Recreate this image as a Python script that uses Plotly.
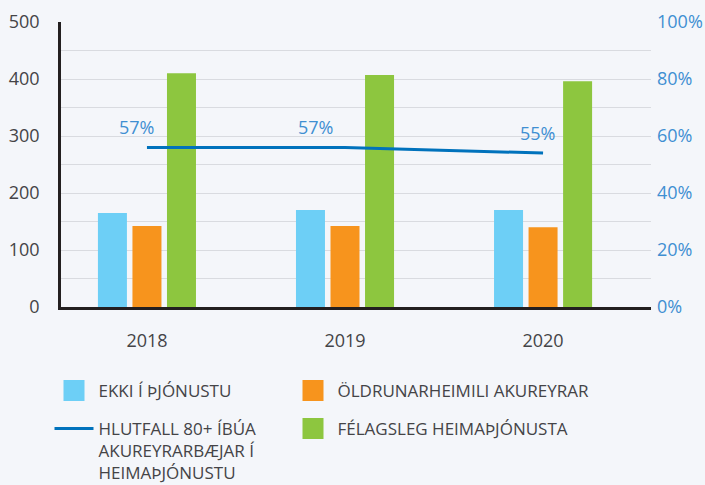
import plotly.graph_objects as go

years = ["2018", "2019", "2020"]
ekki = [165, 170, 170]
oldrun = [142, 142, 140]
felags = [410, 407, 396]
hlutfall = [0.56, 0.56, 0.54]
hlutfall_labels = ["57%", "57%", "55%"]

name_ekki = "EKKI Í ÞJÓNUSTU"
name_old = "ÖLDRUNARHEIMILI AKUREYRAR"
name_hlut = "HLUTFALL 80+ ÍBÚA<br>AKUREYRARBÆJAR Í<br>HEIMAÞJÓNUSTU"
name_fel = "FÉLAGSLEG HEIMAÞJÓNUSTA"

C_EKKI = "#6dcff6"
C_OLD = "#f7941d"
C_FEL = "#8dc63f"
C_LINE = "#0072bc"

BG = "#f4f6fa"
TXT = "#444447"
BLUE_TXT = "#3f8fd2"
FONT = "Open Sans"
FS = 18
LFS = 17

fig = go.Figure()
fig.add_bar(x=years, y=ekki, name=name_ekki, marker_color=C_EKKI, marker_line_width=0, showlegend=False)
fig.add_bar(x=years, y=oldrun, name=name_old, marker_color=C_OLD, marker_line_width=0, showlegend=False)
fig.add_bar(x=years, y=felags, name=name_fel, marker_color=C_FEL, marker_line_width=0, showlegend=False)
fig.add_scatter(x=years, y=hlutfall, name=name_hlut, yaxis="y2", mode="lines",
                line=dict(color=C_LINE, width=3), legend="legend3")

# legend-only entries (square swatches)
def swatch(name, color, legend):
    fig.add_scatter(x=[None], y=[None], name=name, mode="markers", legend=legend,
                    marker=dict(symbol="square", size=16, color=color,
                                line=dict(color=color, width=5)))

swatch(name_ekki, C_EKKI, "legend")
swatch(name_old, C_OLD, "legend2")
swatch(name_fel, C_FEL, "legend4")

shifts = [-10, -30, -6]
for i, (v, lab, sh) in enumerate(zip(hlutfall, hlutfall_labels, shifts)):
    fig.add_annotation(x=i, y=v, xref="x", yref="y2", text=lab, showarrow=False,
                       xshift=sh, yshift=20, font=dict(family=FONT, size=FS, color=BLUE_TXT))

leg_common = dict(orientation="h", xref="container", yref="container",
                  xanchor="left", yanchor="top", itemwidth=39, valign="top",
                  font=dict(family=FONT, size=LFS, color=TXT), bgcolor="rgba(0,0,0,0)")

COL1 = 49.5 / 705
COL2 = 288.5 / 705
ROW1 = 1 - 373 / 485
ROW2 = 1 - 411 / 485

fig.update_layout(
    width=705, height=485,
    paper_bgcolor=BG, plot_bgcolor=BG,
    margin=dict(l=61, r=54, t=22, b=178, autoexpand=False),
    barmode="group", bargap=0.477, bargroupgap=0.16,
    font=dict(family=FONT, size=FS, color=TXT),
    xaxis=dict(type="category", range=[-0.434, 2.545], showline=True, linecolor="#231f20",
               linewidth=2.5, ticks="", ticklabelstandoff=16, showgrid=False, automargin=False,
               tickfont=dict(size=FS, color=TXT)),
    yaxis=dict(range=[0, 500], dtick=100, showline=True, linecolor="#231f20", linewidth=2.5,
               gridcolor="#d9dbe0", gridwidth=1.2, ticks="", ticklabelstandoff=15,
               minor=dict(dtick=50, showgrid=True, gridcolor="#d9dbe0", gridwidth=1.2),
               zeroline=False, automargin=False, tickfont=dict(size=FS, color=TXT)),
    yaxis2=dict(range=[0, 1], dtick=0.2, tickformat=".0%", overlaying="y", side="right",
                showgrid=False, zeroline=False, showline=False, ticks="", ticklabelstandoff=5,
                automargin=False, tickfont=dict(size=FS, color=BLUE_TXT)),
    legend=dict(leg_common, x=COL1, y=ROW1),
    legend2=dict(leg_common, x=COL2, y=ROW1),
    legend3=dict(leg_common, x=COL1, y=ROW2),
    legend4=dict(leg_common, x=COL2, y=ROW2),
)

fig.write_html("out.html", config={"displayModeBar": False},
               post_script="document.body.style.margin='0';")
